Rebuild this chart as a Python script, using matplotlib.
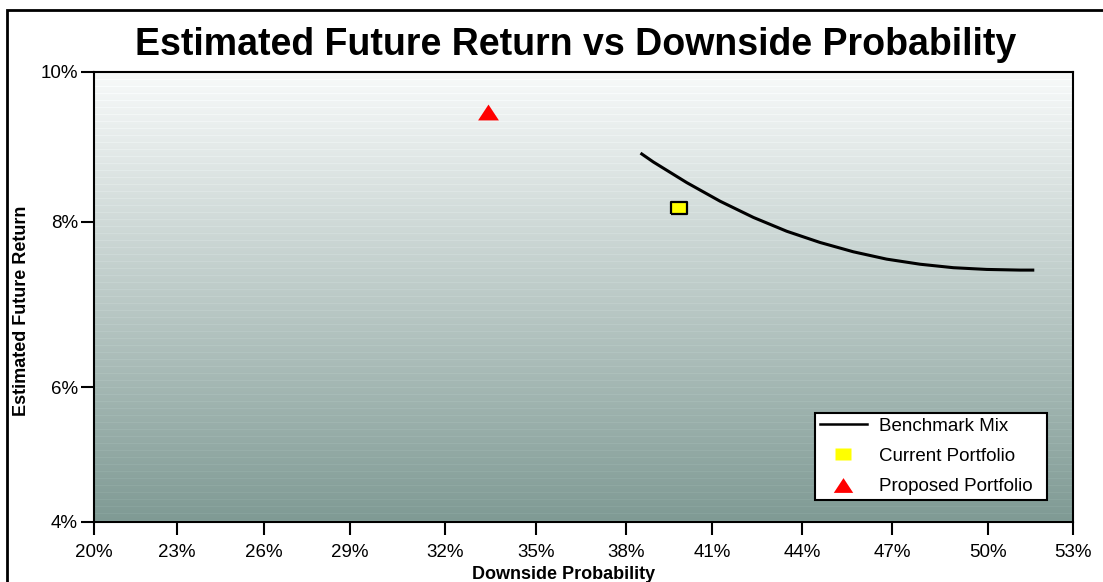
import numpy as np
import matplotlib
matplotlib.use("Agg")
import matplotlib.pyplot as plt
from matplotlib.lines import Line2D
from matplotlib.patches import Rectangle

plt.rcParams['font.family'] = ['Liberation Sans', 'DejaVu Sans']

# chart data (percent)
x_ticks = [20, 23, 26, 29, 32, 35, 38, 41, 44, 47, 50, 53]
y_ticks = [4, 6, 8, 10]

benchmark_risk = [38.55, 38.95, 40.12, 41.27, 42.38, 43.49, 44.60, 45.71,
                  46.82, 47.88, 48.92, 49.96, 51.13, 51.58]
benchmark_return = [8.907, 8.801, 8.525, 8.277, 8.061, 7.888, 7.752, 7.639,
                    7.550, 7.488, 7.446, 7.425, 7.417, 7.417]

current_risk = [39.85]
current_return = [8.19]
proposed_risk = [33.41]
proposed_return = [9.47]

# the original axes spaces its ticks unevenly, so use a piecewise scale
x_tick_frac = np.array([0, 83, 170, 256, 351, 442, 532, 618, 708, 798, 894, 979]) / 979
y_tick_frac = np.array([0, 135, 300, 450]) / 450


def x_fwd(v):
    return np.interp(v, x_ticks, x_tick_frac)


def x_inv(f):
    return np.interp(f, x_tick_frac, x_ticks)


def y_fwd(v):
    return np.interp(v, y_ticks, y_tick_frac)


def y_inv(f):
    return np.interp(f, y_tick_frac, y_ticks)


fig = plt.figure(figsize=(11.03, 5.82), dpi=100)
pos = [94 / 1103, 60 / 582, 979 / 1103, 450 / 582]

# gradient background
bg = fig.add_axes(pos, zorder=0)
bg.axis('off')
top = np.array([248, 250, 250]) / 255
bottom = np.array([127, 154, 148]) / 255
t = np.linspace(0, 1, 450)[:, None]
grad = top * (1 - t) + bottom * t
stripes = (np.arange(450) % 7 == 0)[:, None] * 0.025
grad = np.clip(grad + stripes, 0, 1)
grad = np.repeat(grad[:, None, :], 2, axis=1)
bg.imshow(grad, aspect='auto', extent=[0, 1, 0, 1], interpolation='nearest')
bg.set_xlim(0, 1)
bg.set_ylim(0, 1)

ax = fig.add_axes(pos, zorder=1)
ax.set_facecolor('none')
ax.set_xscale('function', functions=(x_fwd, x_inv))
ax.set_yscale('function', functions=(y_fwd, y_inv))

square = [(-1, -0.83), (1, -0.83), (1, 0.83), (-1, 0.83), (-1, -0.83)]
tri = [(-1, -0.76), (1, -0.76), (0, 0.76), (-1, -0.76)]

ax.plot(benchmark_risk, benchmark_return, color='black', lw=2.2, zorder=3,
        solid_joinstyle='round')
ax.plot(current_risk, current_return, ls='none', marker=square, ms=11,
        mfc='#ffff00', mec='black', mew=1.6, zorder=4)
ax.plot(proposed_risk, proposed_return, ls='none', marker=tri, ms=15,
        mfc='#ff0000', mec='none', zorder=4)

ax.set_xlim(20, 53)
ax.set_ylim(4, 10)
ax.set_xticks(x_ticks)
ax.set_xticklabels([f"{v}%" for v in x_ticks])
ax.set_yticks(y_ticks)
ax.set_yticklabels([f"{v}%" for v in y_ticks])
ax.minorticks_off()
ax.tick_params(direction='out', length=9.5, width=1.5,
               labelsize=13.5, colors='black')
ax.tick_params(axis='x', pad=6.5)
ax.tick_params(axis='y', pad=2)
for s in ax.spines.values():
    s.set_linewidth(1.5)

handles = [
    Line2D([], [], color='black', lw=1.8),
    Line2D([], [], ls='none', marker=square, ms=11, mfc='#ffff00', mec='none'),
    Line2D([], [], ls='none', marker=tri, ms=14, mfc='#ff0000', mec='none'),
]
labels = ['Benchmark Mix', 'Current Portfolio', 'Proposed Portfolio']
leg = ax.legend(handles, labels, loc='lower left',
                bbox_to_anchor=(0.7365, 0.049, 0.2365, 0.1956), mode='expand',
                borderaxespad=0, fancybox=False, edgecolor='black',
                framealpha=1, handlelength=2.5, handletextpad=0.65,
                labelspacing=0.7, borderpad=0.25, fontsize=13.5)
leg.get_frame().set_linewidth(1.5)

fig.text(576 / 1103, 1 - 55 / 582,
         'Estimated Future Return vs Downside Probability',
         fontsize=27, fontweight='bold', ha='center', va='baseline')
fig.text(22 / 1103, 1 - 311 / 582, 'Estimated Future Return',
         fontsize=13, fontweight='bold', rotation=90, ha='center', va='center')
fig.text(564 / 1103, 3 / 582, 'Downside Probability',
         fontsize=13, fontweight='bold', ha='center', va='baseline')

# outer frame (runs off the right and bottom edges)
fig.patches.append(Rectangle((7 / 1103, -0.1), 1.2, 1.1 - 10 / 582,
                             transform=fig.transFigure, fill=False,
                             lw=2, ec='black'))

fig.savefig('out.png', dpi=100)
